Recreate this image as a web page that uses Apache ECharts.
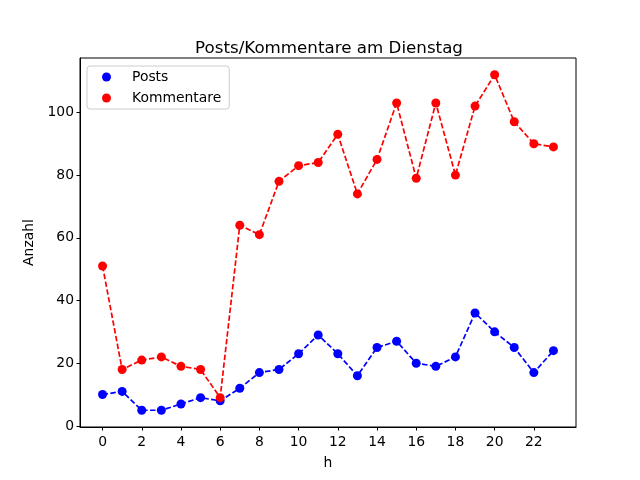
<!DOCTYPE html>
<html>
<head>
<meta charset="utf-8">
<script src="https://cdn.jsdelivr.net/npm/echarts@6/dist/echarts.min.js"></script>
<style>
  html, body { margin: 0; padding: 0; background: #fff; }
  #main { width: 640px; height: 480px; }
</style>
</head>
<body>
<div id="main"></div>
<script>
// Stunden des Tages
var hours = [0, 1, 2, 3, 4, 5, 6, 7, 8, 9, 10, 11, 12, 13, 14, 15, 16, 17, 18, 19, 20, 21, 22, 23];
var posts = [10, 11, 5, 5, 7, 9, 8, 12, 17, 18, 23, 29, 23, 16, 25, 27, 20, 19, 22, 36, 30, 25, 17, 24];
var kommentare = [51, 18, 21, 22, 19, 18, 9, 64, 61, 78, 83, 84, 93, 74, 85, 103, 79, 103, 80, 102, 112, 97, 90, 89];
var xTicks = [0, 2, 4, 6, 8, 10, 12, 14, 16, 18, 20, 22];
var yTicks = [0, 20, 40, 60, 80, 100];

var font = "DejaVu Sans";

function pairs(ys) {
  return hours.map(function (h, i) { return [h, ys[i]]; });
}

var myChart = echarts.init(document.getElementById("main"));

var option = {
  animation: false,
  backgroundColor: "#fff",
  title: {
    text: "Posts/Kommentare am Dienstag",
    left: 324,
    textAlign: "center",
    top: 35,
    textStyle: { fontFamily: font, fontSize: 16.7, fontWeight: "normal", color: "#000" },
  },
  legend: {
    orient: "vertical",
    left: 87,
    top: 66,
    padding: [4, 8, 4, 15],
    itemGap: 7,
    itemWidth: 9,
    itemHeight: 9,
    icon: "circle",
    borderColor: "#ccc",
    borderWidth: 1,
    borderRadius: 3,
    backgroundColor: "rgba(255,255,255,0.8)",
    textStyle: { fontFamily: font, fontSize: 13.9, color: "#000", padding: [0, 0, 0, 16] },
    data: ["Posts", "Kommentare"],
  },
  grid: {
    left: 80,
    right: 64,
    top: 58,
    bottom: 53,
    show: true,
    borderColor: "#000",
    borderWidth: 1,
  },
  xAxis: {
    type: "value",
    min: -1.15,
    max: 24.15,
    name: "h",
    nameLocation: "middle",
    nameGap: 29,
    nameTextStyle: { fontFamily: font, fontSize: 13.9, color: "#000" },
    axisLine: { show: true, onZero: false, lineStyle: { color: "#000", width: 1 } },
    axisTick: { show: true, length: 3.5, customValues: xTicks, lineStyle: { color: "#000" } },
    axisLabel: { customValues: xTicks, margin: 8, fontFamily: font, fontSize: 13.9, color: "#000" },
    splitLine: { show: false },
  },
  yAxis: {
    type: "value",
    min: -0.35,
    max: 117.35,
    name: "Anzahl",
    nameLocation: "middle",
    nameGap: 44,
    nameTextStyle: { fontFamily: font, fontSize: 13.9, color: "#000" },
    axisLine: { show: true, onZero: false, lineStyle: { color: "#000", width: 1 } },
    axisTick: { show: true, length: 3.5, customValues: yTicks, lineStyle: { color: "#000" } },
    axisLabel: { customValues: yTicks, margin: 6, fontFamily: font, fontSize: 13.9, color: "#000" },
    splitLine: { show: false },
  },
  series: [
    {
      name: "Posts",
      type: "line",
      data: pairs(posts),
      symbol: "circle",
      symbolSize: 9,
      itemStyle: { color: "#0000ff" },
      lineStyle: { color: "#0000ff", width: 1.7, type: [5.5, 2.4] },
    },
    {
      name: "Kommentare",
      type: "line",
      data: pairs(kommentare),
      symbol: "circle",
      symbolSize: 9,
      itemStyle: { color: "#ff0000" },
      lineStyle: { color: "#ff0000", width: 1.7, type: [5.5, 2.4] },
    },
  ],
};

myChart.setOption(option);
</script>
</body>
</html>
